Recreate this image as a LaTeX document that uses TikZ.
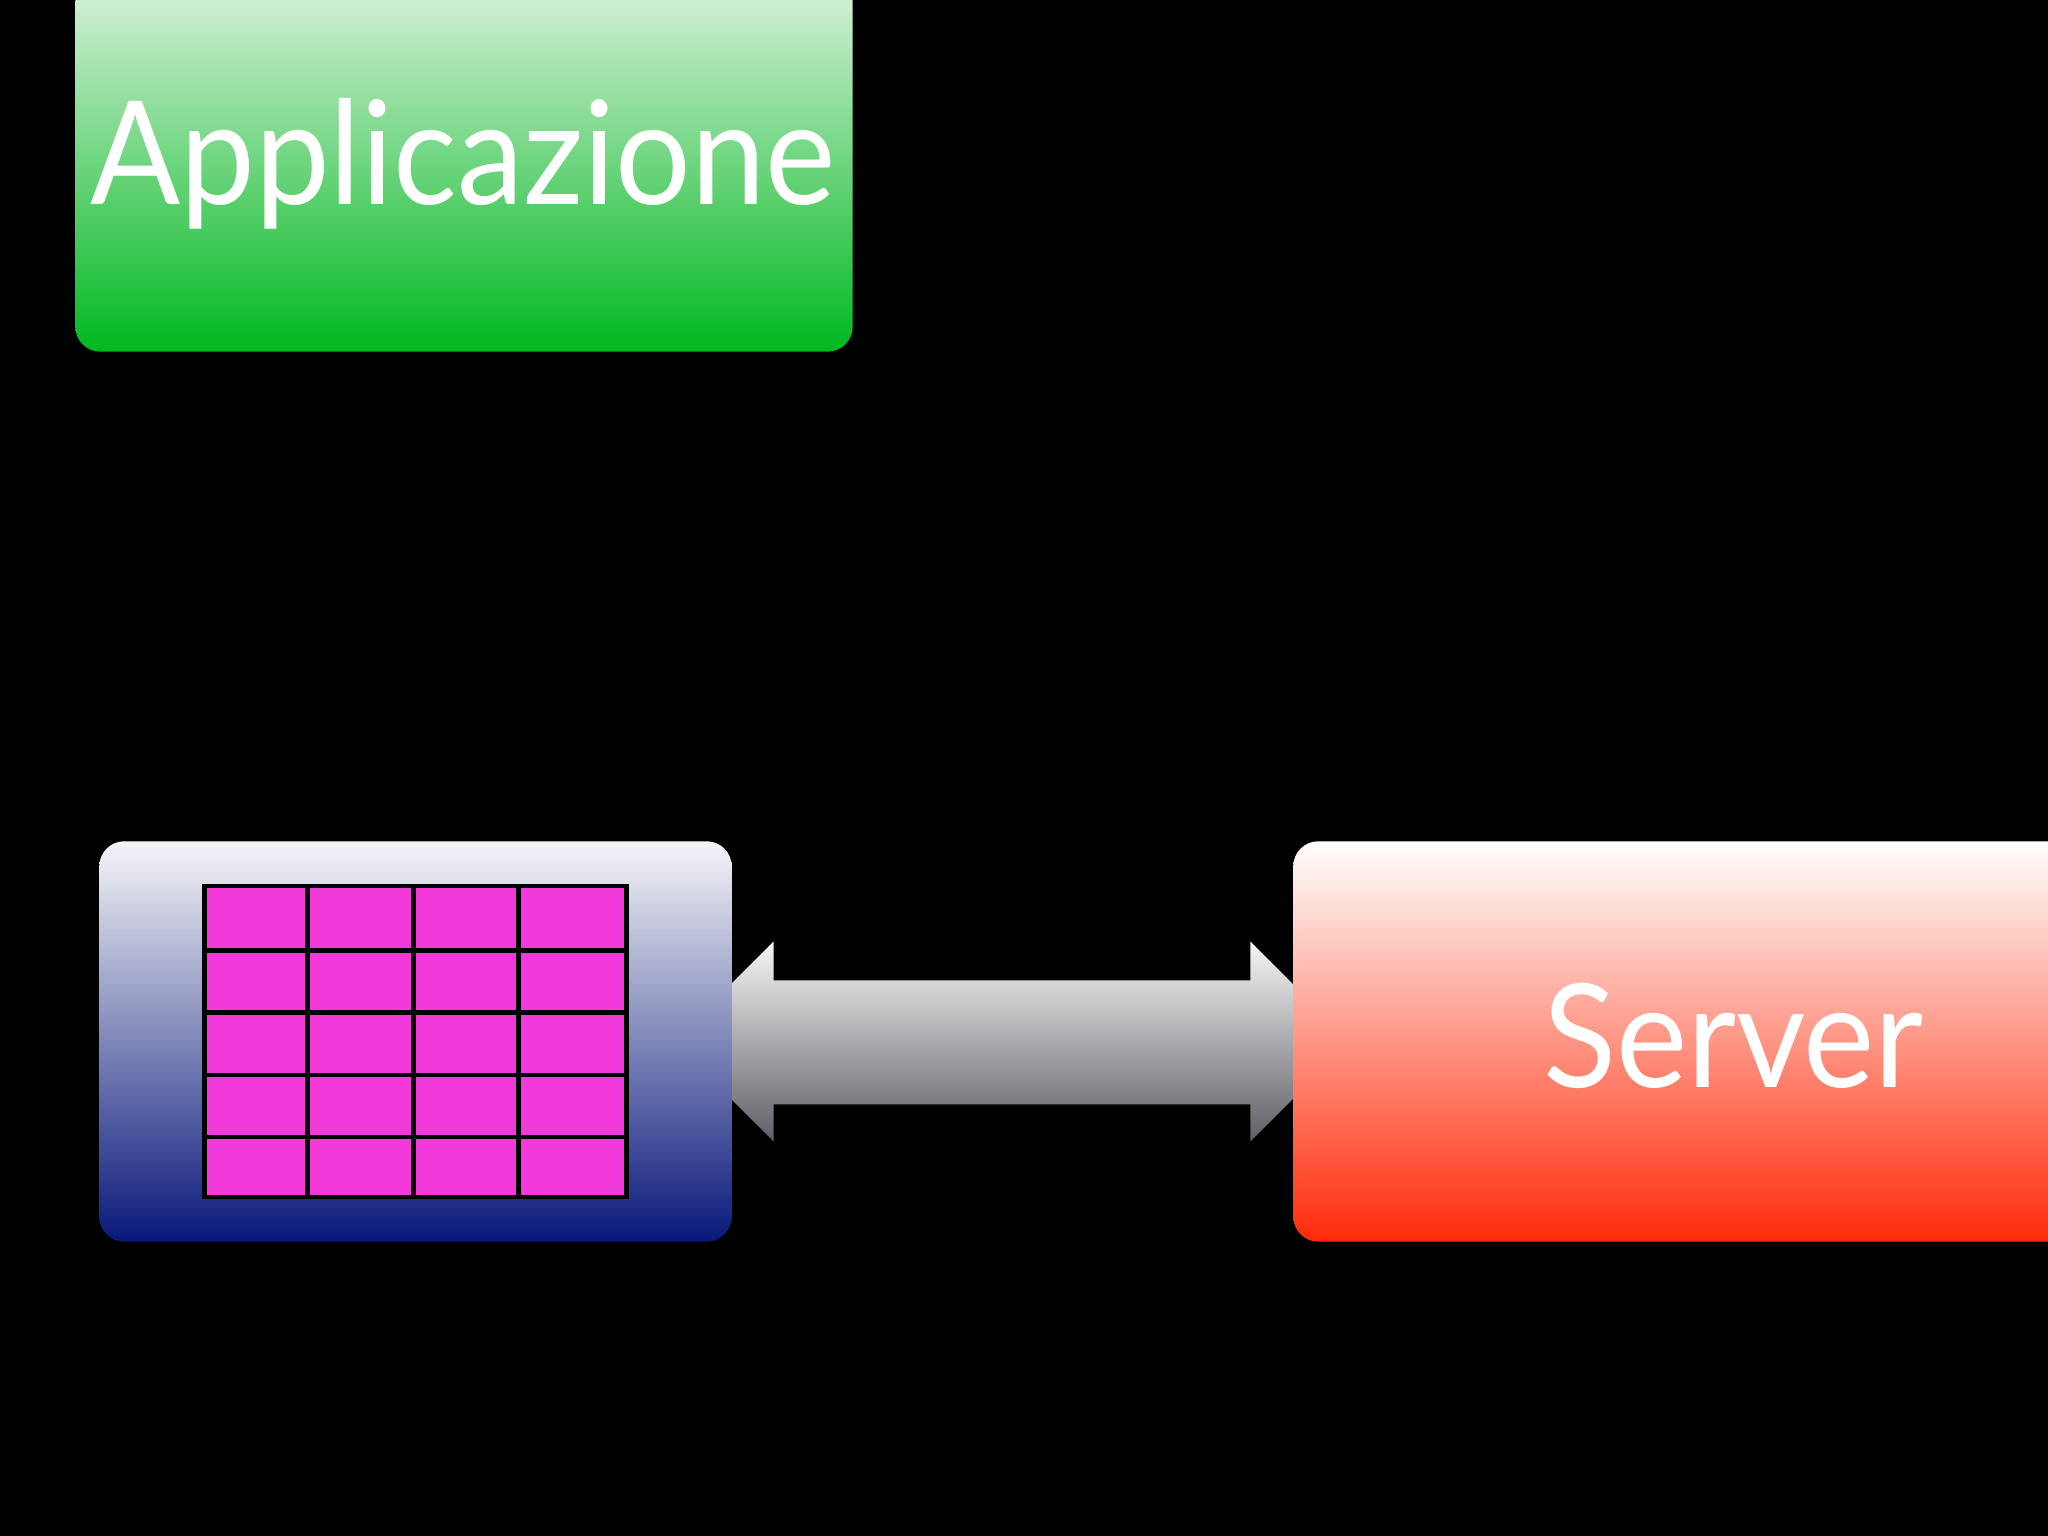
\documentclass[tikz,border=0pt]{standalone}
\usepackage{fontspec}
\setmainfont{Lato}
\usepackage{graphicx}
\usepackage{xcolor}
\usetikzlibrary{positioning, calc}
\definecolor{appTop}{HTML}{EAF6EA}
\definecolor{appMid}{HTML}{88D992}
\definecolor{appBot}{HTML}{00B820}
\definecolor{cliTop}{HTML}{F5F5F7}
\definecolor{cliMid}{HTML}{A2A6C4}
\definecolor{cliBot}{HTML}{08187A}
\definecolor{srvTop}{HTML}{FFFFFF}
\definecolor{srvMid}{HTML}{FF9C96}
\definecolor{srvBot}{HTML}{FF2A08}
\definecolor{arrTop}{HTML}{F6F6F6}
\definecolor{arrBot}{HTML}{5E5E66}
\definecolor{cellpink}{HTML}{F23ADB}

\newcommand{\roundbox}[4]{% node, top, middle, bottom colour
  \shade[rounded corners=0.25cm, top color=#2, middle color=#3, bottom color=#4]
    (#1.north) -- (#1.north east) -- (#1.south east) -- (#1.south west)
    -- (#1.north west) -- cycle;}

\begin{document}
\begin{tikzpicture}[
  box/.style={inner sep=0pt},
  slidetext/.style={text=white, inner sep=0pt, font=\fontsize{41}{48}\selectfont},
  gridline/.style={line width=1.3pt, black}
]
\useasboundingbox (0,0) rectangle (20.48,15.36);
\fill[black] (0,0) rectangle (20.48,15.36);
\clip (0,0) rectangle (20.48,15.36);

% the three boxes
\node[box, minimum width=7.76cm, minimum height=4cm] (app) at (4.64,13.85) {};
\node[box, minimum width=6.31cm, minimum height=3.99cm] (client) at (4.155,4.945) {};
\node[box, minimum width=8.78cm, minimum height=3.99cm] (server) at (17.33,4.945) {};

% double arrow, tips hidden behind the boxes
\shade[top color=arrTop, bottom color=arrBot]
  ($(client.east)+(-0.58,0)$) -- ($(client.east)+(0.42,1)$) -- ($(client.east)+(0.42,0.61)$)
  -- ($(server.west)+(-0.43,0.61)$) -- ($(server.west)+(-0.43,1)$) -- ($(server.west)+(0.57,0)$)
  -- ($(server.west)+(-0.43,-1)$) -- ($(server.west)+(-0.43,-0.63)$)
  -- ($(client.east)+(0.42,-0.63)$) -- ($(client.east)+(0.42,-1)$) -- cycle;

\roundbox{app}{appTop}{appMid}{appBot}
\roundbox{client}{cliTop}{cliMid}{cliBot}
\roundbox{server}{srvTop}{srvMid}{srvBot}

% table in the client
\node[fill=cellpink, draw=black, line width=1.3pt, inner sep=0pt,
      minimum width=4.22cm, minimum height=3.11cm] (grid) at (client.center) {};
\foreach \i in {1,2,3}
  \draw[gridline] ($(grid.south west)+(\i*1.055,0)$) -- ($(grid.north west)+(\i*1.055,0)$);
\foreach \j in {1,...,4}
  \draw[gridline] ($(grid.south west)+(0,\j*0.622)$) -- ($(grid.south east)+(0,\j*0.622)$);

% labels
\node[slidetext, anchor=base] (apptext) at (4.63,13.31) {\scalebox{0.925}[1]{Applicazione}};
\node[slidetext, anchor=base] (srvtext) at (17.335,4.48) {\scalebox{0.935}[1]{Server}};
\end{tikzpicture}
\end{document}
